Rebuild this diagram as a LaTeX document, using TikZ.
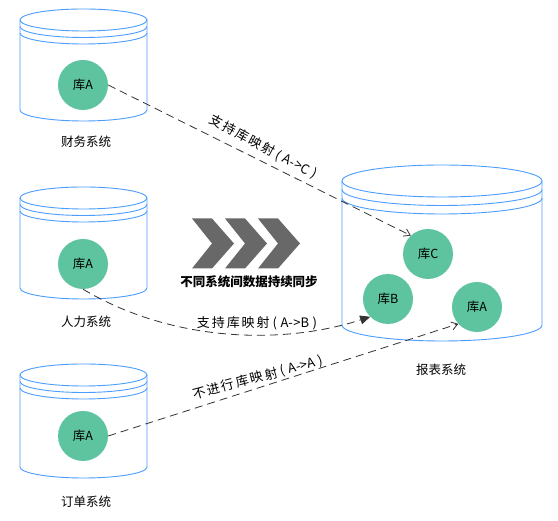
\documentclass[tikz,border=0pt]{standalone}
\usepackage{fontspec}
\setmainfont{Noto Sans CJK SC}
\usetikzlibrary{arrows.meta}
\definecolor{cylblue}{RGB}{74,158,255}
\definecolor{dbgreen}{RGB}{94,196,160}
\definecolor{chevgray}{RGB}{104,104,104}
\definecolor{edgegray}{RGB}{51,51,51}
\newcommand{\dbcyl}[6]{%
  \draw[cylline] (#1,#2) ellipse [x radius=#4pt, y radius=#5pt];
  \draw[cylline] (#1-#4,#2-#6) arc[start angle=180,end angle=360,x radius=#4pt,y radius=#5pt];
  \draw[cylline] (#1-#4,#2-2*#6) arc[start angle=180,end angle=360,x radius=#4pt,y radius=#5pt];
  \draw[cylline] (#1-#4,#2) -- (#1-#4,#3) arc[start angle=180,end angle=360,x radius=#4pt,y radius=#5pt] -- (#1+#4,#2);
}
\newcommand{\chev}[1]{%
  \fill[chevgray] (#1,302.5) -- (#1+20,302.5) -- (#1+42,277.5) -- (#1+20,252.5) -- (#1,252.5) -- (#1+20,277.5) -- cycle;
}
\newcommand{\maplbl}[2]{{\addfontfeature{LetterSpace=15}#1}\hspace{3pt}(\hspace{3.5pt}#2\hspace{3.5pt})}
\begin{document}
\begin{tikzpicture}[x=1pt,y=1pt,
  cylline/.style={draw=cylblue, line width=0.9pt},
  db/.style={circle, fill=dbgreen, minimum size=50pt, inner sep=0pt, font=\fontsize{12.5}{15}\selectfont},
  lbl/.style={font=\fontsize{12.5}{15}\selectfont, inner sep=0pt},
  elbl/.style={font=\fontsize{13}{15}\selectfont, inner sep=0pt},
  syncedge/.style={draw=edgegray, line width=0.8pt, dash pattern=on 8pt off 5pt},
  ]
\useasboundingbox (0,0) rectangle (558,521);
\fill[white] (0,0) rectangle (558,521);

% cylinders
\dbcyl{83.5}{501}{411}{63.5}{11}{6.5}
\dbcyl{83.5}{323}{233}{63.5}{11}{6.5}
\dbcyl{83.5}{146}{54}{63.5}{11}{6.5}
\dbcyl{442}{340}{196}{100}{16}{8.5}

% databases
\node[db] (a1) at (83,436) {库A};
\node[db] (a2) at (83,257) {库A};
\node[db] (a3) at (83,85) {库A};
\node[db] (c) at (428,267) {库C};
\node[db] (b) at (388,222) {库B};
\node[db] (ra) at (477,214) {库A};

% system labels
\node[lbl] (l1) at (86,379) {财务系统};
\node[lbl] (l2) at (86,199) {人力系统};
\node[lbl] (l3) at (86,19) {订单系统};
\node[lbl] (l4) at (441,151) {报表系统};

% chevrons
\chev{192}
\chev{225}
\chev{258}
\node[font=\fontsize{12.5}{15}\selectfont\bfseries, inner sep=0pt] (sync) at (249,239) {不同系统间数据持续同步};

% edges
\draw[syncedge, -{Straight Barb[length=6pt,width=8pt]}] (a1.east) -- (c.133);
\node[elbl, rotate=-28] (e1) at (263,374) {\maplbl{支持库映射}{A-\hspace{0.5pt}>C}};

\draw[syncedge, -{Triangle[length=10pt,width=9pt]}] (a2.south) .. controls (170,180) and (280,175) .. (b.225);
\node[elbl] (e2) at (257,198) {\maplbl{支持库映射}{A-\hspace{0.5pt}>B}};

\draw[syncedge, -{Straight Barb[length=6pt,width=8pt]}] (a3.east) -- (ra.222);
\node[elbl, rotate=15] (e3) at (258,143) {\maplbl{不进行库映射}{A-\hspace{0.5pt}>A}};
\end{tikzpicture}
\end{document}
